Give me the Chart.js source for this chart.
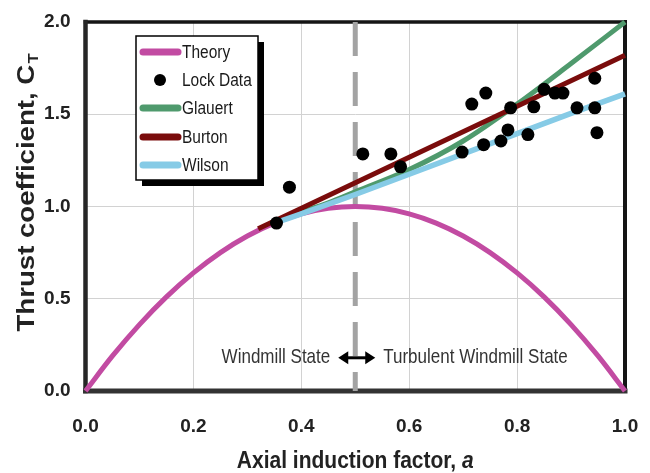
<!DOCTYPE html>
<html><head><meta charset="utf-8">
<script src="https://cdn.jsdelivr.net/npm/chart.js@4"></script>
<style>html,body{margin:0;padding:0;background:#fff;}canvas{display:block;}</style>
</head><body>
<canvas id="c" width="650" height="473"></canvas>
<script>
// ---- data ----
const seriesNames = ['Theory', 'Lock Data', 'Glauert', 'Burton', 'Wilson'];

const theoryA  = [0, 0.05, 0.1, 0.15, 0.2, 0.25, 0.3, 0.35, 0.4, 0.45, 0.5, 0.55, 0.6, 0.65, 0.7, 0.75, 0.8, 0.85, 0.9, 0.95, 1.0];
const theoryCT = [0, 0.19, 0.36, 0.51, 0.64, 0.75, 0.84, 0.91, 0.96, 0.99, 1.00, 0.99, 0.96, 0.91, 0.84, 0.75, 0.64, 0.51, 0.36, 0.19, 0];

const lockA  = [0.354, 0.378, 0.514, 0.566, 0.584, 0.698, 0.716, 0.742, 0.738, 0.77, 0.783, 0.788, 0.82, 0.831, 0.85, 0.87, 0.885, 0.911, 0.944, 0.944, 0.948];
const lockCT = [0.91, 1.105, 1.285, 1.285, 1.215, 1.295, 1.555, 1.615, 1.335, 1.355, 1.415, 1.535, 1.39, 1.54, 1.635, 1.615, 1.615, 1.535, 1.695, 1.535, 1.40];

const glauertA  = [0.36, 0.4, 0.45, 0.5, 0.6, 0.7, 0.8, 0.9, 1.0];
const glauertCT = [0.93, 0.97, 1.02, 1.08, 1.20, 1.355, 1.555, 1.775, 2.0];

const burtonA  = [0.32, 1.0];
const burtonCT = [0.88, 1.82];

const wilsonA  = [0.36, 0.4, 0.5, 0.6, 0.7, 0.8, 0.9, 1.0];
const wilsonCT = [0.92, 0.96, 1.065, 1.175, 1.285, 1.395, 1.505, 1.61];

const dividerA = 0.5;            // windmill / turbulent windmill boundary
const yTicks = [0, 0.5, 1.0, 1.5, 2.0];
const xTicks = [0, 0.2, 0.4, 0.6, 0.8, 1.0];
const stateLeft = 'Windmill State';
const stateRight = 'Turbulent Windmill State';
const xTitle = 'Axial induction factor, ';
const xTitleVar = 'a';
const yTitle = 'Thrust coefficient, C';
const yTitleSub = 'T';

const colors = {Theory:'#c24ba2', Lock:'#000000', Glauert:'#4f9a6d', Burton:'#7a0c0c', Wilson:'#86cbe6'};
const FONT = "'Liberation Sans', Arial, sans-serif";

function pts(xs, ys) { return xs.map((x, i) => ({x: x, y: ys[i]})); }

const framePlugin = {
  id: 'frame',
  beforeDatasetsDraw(chart) {
    const {ctx, chartArea: a} = chart;
    ctx.save();
    ctx.lineCap = 'square';
    ctx.strokeStyle = '#151515';
    ctx.lineWidth = 3.5;
    ctx.beginPath(); ctx.moveTo(a.left, a.top); ctx.lineTo(a.right, a.top); ctx.stroke();
    ctx.lineWidth = 4;
    ctx.beginPath(); ctx.moveTo(a.right, a.top); ctx.lineTo(a.right, a.bottom); ctx.stroke();
    ctx.strokeStyle = '#262626';
    ctx.lineWidth = 4.5;
    ctx.beginPath(); ctx.moveTo(a.left, a.top); ctx.lineTo(a.left, a.bottom); ctx.stroke();
    ctx.strokeStyle = '#333333';
    ctx.lineWidth = 5;
    ctx.beginPath(); ctx.moveTo(a.left, a.bottom); ctx.lineTo(a.right, a.bottom); ctx.stroke();
    ctx.restore();
  },
  afterDraw(chart) {
    const {ctx, chartArea: a} = chart;
    const xs = chart.scales.x, ys = chart.scales.y;
    ctx.save();
    // --- state annotation ---
    const xm = xs.getPixelForValue(dividerA);
    const yt = ys.getPixelForValue(0.18);
    ctx.fillStyle = '#333';
    ctx.textBaseline = 'middle';
    ctx.font = '17px ' + FONT;
    ctx.save(); ctx.translate(0, yt); ctx.scale(1, 1.18);
    ctx.textAlign = 'right'; ctx.fillText(stateLeft, xm - 25, 0);
    ctx.textAlign = 'left'; ctx.fillText(stateRight, xm + 28, 0);
    ctx.restore();
    // double arrow
    ctx.strokeStyle = '#000'; ctx.fillStyle = '#000'; ctx.lineWidth = 3;
    const x1 = xm - 17, x2 = xm + 20;
    ctx.beginPath(); ctx.moveTo(x1 + 6, yt); ctx.lineTo(x2 - 6, yt); ctx.stroke();
    ctx.beginPath(); ctx.moveTo(x1, yt); ctx.lineTo(x1 + 10, yt - 6.5); ctx.lineTo(x1 + 10, yt + 6.5); ctx.closePath(); ctx.fill();
    ctx.beginPath(); ctx.moveTo(x2, yt); ctx.lineTo(x2 - 10, yt - 6.5); ctx.lineTo(x2 - 10, yt + 6.5); ctx.closePath(); ctx.fill();

    // --- legend ---
    const L = 136, T = 36, W = 122, H = 144;
    ctx.fillStyle = '#000'; ctx.fillRect(L + 6, T + 6, W, H);
    ctx.fillStyle = '#fff'; ctx.fillRect(L, T, W, H);
    ctx.strokeStyle = '#000'; ctx.lineWidth = 1.5; ctx.strokeRect(L, T, W, H);
    const rows = [52, 80, 108, 137, 165];
    const cols = [colors.Theory, colors.Lock, colors.Glauert, colors.Burton, colors.Wilson];
    ctx.font = '15.5px ' + FONT;
    ctx.textAlign = 'left'; ctx.textBaseline = 'middle';
    seriesNames.forEach((name, i) => {
      const y = rows[i];
      if (i === 1) {
        ctx.fillStyle = '#000';
        ctx.beginPath(); ctx.arc(160, y, 6, 0, Math.PI * 2); ctx.fill();
      } else {
        ctx.strokeStyle = cols[i]; ctx.lineWidth = 7; ctx.lineCap = 'round';
        ctx.beginPath(); ctx.moveTo(143, y); ctx.lineTo(178, y); ctx.stroke();
      }
      ctx.fillStyle = '#1a1a1a';
      ctx.save(); ctx.translate(182, y + 1); ctx.scale(1, 1.22); ctx.fillText(name, 0, 0); ctx.restore();
    });

    // --- axis titles ---
    ctx.fillStyle = '#222';
    ctx.textBaseline = 'middle';
    // x title
    ctx.save();
    ctx.translate((a.left + a.right) / 2, 461); ctx.scale(1, 1.16);
    ctx.font = 'bold 21px ' + FONT;
    const w1 = ctx.measureText(xTitle).width;
    ctx.font = 'italic bold 21px ' + FONT;
    const w2 = ctx.measureText(xTitleVar).width;
    let sx = -(w1 + w2) / 2;
    ctx.textAlign = 'left';
    ctx.font = 'bold 21px ' + FONT; ctx.fillText(xTitle, sx, 0);
    ctx.font = 'italic bold 21px ' + FONT; ctx.fillText(xTitleVar, sx + w1, 0);
    ctx.restore();
    // y title
    ctx.save();
    ctx.translate(28, 193); ctx.rotate(-Math.PI / 2); ctx.scale(1.2, 1);
    ctx.font = 'bold 23px ' + FONT;
    const w3 = ctx.measureText(yTitle).width;
    ctx.font = 'bold 14px ' + FONT;
    const w4 = ctx.measureText(yTitleSub).width;
    let sy = -(w3 + w4) / 2;
    ctx.textAlign = 'left';
    ctx.font = 'bold 23px ' + FONT; ctx.fillText(yTitle, sy, 0);
    ctx.font = 'bold 14px ' + FONT; ctx.fillText(yTitleSub, sy + w3 + 1, 6);
    ctx.restore();
    ctx.restore();
  }
};

const lineDs = (label, xs, ys, color, width, order) => ({
  type: 'line', label, data: pts(xs, ys), borderColor: color, backgroundColor: color,
  borderWidth: width, pointRadius: 0, fill: false, order, cubicInterpolationMode: 'monotone',
  borderCapStyle: 'butt'
});

new Chart(document.getElementById('c'), {
  type: 'scatter',
  data: {
    datasets: [
      {type: 'line', label: 'divider', data: [{x: dividerA, y: 2.0}, {x: dividerA, y: 0}],
       borderColor: '#a3a3a3', borderWidth: 5, borderDash: [34, 16], pointRadius: 0, order: 10, fill: false},
      lineDs(seriesNames[0], theoryA, theoryCT, colors.Theory, 5, 6),
      lineDs(seriesNames[2], glauertA, glauertCT, colors.Glauert, 5, 5),
      lineDs(seriesNames[3], burtonA, burtonCT, colors.Burton, 5, 4),
      lineDs(seriesNames[4], wilsonA, wilsonCT, colors.Wilson, 5.5, 3),
      {type: 'scatter', label: seriesNames[1], data: pts(lockA, lockCT), backgroundColor: '#000',
       borderColor: '#000', pointRadius: 6.5, borderWidth: 0, order: 0}
    ]
  },
  options: {
    responsive: false, animation: false, clip: false,
    layout: {padding: {top: 22, right: 25, left: 0, bottom: 0}},
    plugins: {legend: {display: false}, tooltip: {enabled: false}},
    scales: {
      x: {type: 'linear', min: 0, max: 1,
          afterBuildTicks: s => { s.ticks = xTicks.map(v => ({value: v})); },
          afterFit: s => { s.height = 82; s.paddingLeft = 0; s.paddingRight = 0; },
          ticks: {callback: v => v.toFixed(1), color: '#222', font: {family: FONT, size: 19, weight: 'bold'}, padding: 24, maxRotation: 0},
          grid: {color: '#d2d2d2', lineWidth: 1, drawTicks: false}, border: {display: false}},
      y: {min: 0, max: 2,
          afterBuildTicks: s => { s.ticks = yTicks.map(v => ({value: v})); },
          afterFit: s => { s.width = 85.5; s.paddingTop = 0; s.paddingBottom = 0; },
          ticks: {callback: v => v.toFixed(1), color: '#222', font: {family: FONT, size: 19, weight: 'bold'}, padding: 15},
          grid: {color: '#d2d2d2', lineWidth: 1, drawTicks: false}, border: {display: false}}
    }
  },
  plugins: [framePlugin]
});
</script>
</body></html>
